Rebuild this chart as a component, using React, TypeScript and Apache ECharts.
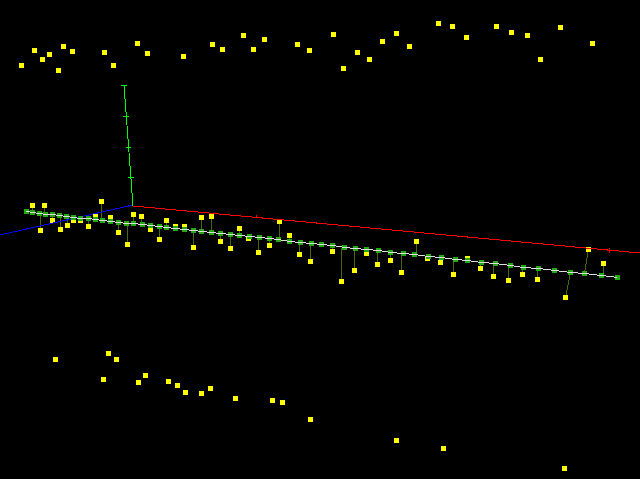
import React, { useEffect, useRef } from "react";
import * as echarts from "echarts";

const topX = [21,34,42,49,63,72,58,104,113,137,147,183,212,222,243,253,264,297,309,333,343,357,369,382,396,409,438,452,466,496,511,527,540,560,592];
const topY = [65,50,59,54,46,51,70,52,65,43,53,56,44,49,35,49,39,44,50,34,68,52,59,41,33,46,23,26,37,26,32,35,59,27,43];
const bottomX = [55,108,116,103,138,145,168,177,185,201,210,235,272,282,310,396,443,564];
const bottomY = [359,353,359,379,382,375,381,385,392,393,388,398,400,402,419,440,448,468];
const baseX = [26,32,39,45,52,59,66,73,80,88,95,102,110,118,126,133,142,150,159,166,175,184,193,201,211,220,230,239,249,259,269,278,289,300,311,321,332,344,355,366,378,390,403,414,428,441,455,467,481,495,510,523,538,554,570,584,601,617];
const baseY = [211,212,213,214,214,215,216,217,218,218,219,220,221,222,223,223,224,225,226,227,228,229,230,231,232,233,234,235,236,237,238,239,241,242,243,244,245,247,248,249,250,252,253,254,256,257,259,260,262,263,265,267,268,270,272,273,275,277];
const pointX = [null,32,40,44,52,60,67,73,80,88,95,101,110,118,127,133,141,150,159,166,175,184,193,201,211,220,230,239,248,258,269,279,289,299,310,null,332,341,354,366,377,390,401,416,427,440,453,467,480,493,508,522,537,null,565,588,603,null];
const pointY = [null,205,230,205,220,229,225,220,220,226,215,201,217,232,244,214,216,229,239,220,226,226,247,217,216,241,248,228,238,252,245,221,235,254,261,null,251,281,270,253,264,260,272,241,258,262,274,258,268,276,280,274,279,null,297,249,263,null];
const redAxis = [[133,206],[640,253]];
const blueAxis = [[0,235],[133,205]];
const greenAxis = [[124,85],[133,206]];
const greenTicks = [[[121,85],[127,85]],[[123,116],[129,116]],[[126,147],[131,147]],[[128,177],[134,177]]];
const redTicks = [[[256,215],[256,218]],[[609,248],[609,253]],[[607,250],[612,250]]];

const px = (v: number) => v + 0.5;
const zip = (xs: (number | null)[], ys: (number | null)[]) =>
  xs.flatMap((x, i) => (x === null || ys[i] === null ? [] : [[px(x), px(ys[i] as number)]]));
const segs = (list: number[][][]) =>
  list.flatMap((s) => [s[0], s[1], ["-", "-"]]);

const stems = baseX.flatMap((x, i) => {
  const p = pointX[i];
  if (p === null) return [];
  const top = Math.abs(x - p) <= 3 ? p : x;
  return [[px(top), px(baseY[i])], [px(p), px(pointY[i] as number)], ["-", "-"]];
});

const lineSeries = (data: any[], color: string, width: number, z: number) => ({
  type: "line",
  data,
  symbol: "none",
  silent: true,
  z,
  lineStyle: { color, width },
});
const squares = (data: any[], color: string, z: number) => ({
  type: "scatter",
  data,
  symbol: "rect",
  symbolSize: 5,
  silent: true,
  z,
  itemStyle: { color, opacity: 1 },
});

export default function App() {
  const ref = useRef<HTMLDivElement>(null);
  useEffect(() => {
    const chart = echarts.init(ref.current!, null, { renderer: "svg" });
    chart.setOption({
      animation: false,
      backgroundColor: "#000000",
      grid: { left: 0, right: 0, top: 0, bottom: 0 },
      xAxis: { type: "value", min: 0, max: 640, show: false },
      yAxis: { type: "value", min: 0, max: 479, inverse: true, show: false },
      series: [
        squares(zip(topX, topY), "#ffff00", 2),
        squares(zip(bottomX, bottomY), "#ffff00", 2),
        lineSeries(stems, "#47660f", 1, 2),
        squares(zip(pointX, pointY), "#ffff00", 3),
        lineSeries(redAxis, "#ff0000", 1, 4),
        lineSeries(segs(redTicks), "#ff0000", 1, 4),
        lineSeries(blueAxis, "#0000ff", 1, 4),
        lineSeries(greenAxis, "#00ff00", 1, 4),
        lineSeries(segs(greenTicks), "#00ff00", 1, 4),
        squares(zip(baseX, baseY), "#22aa11", 5),
        lineSeries(zip(baseX, baseY), "#dddddd", 1, 6),
      ],
    });
    return () => chart.dispose();
  }, []);
  return (
    <>
      <style>{"svg path { shape-rendering: crispEdges; }"}</style>
      <div
        ref={ref}
        style={{ position: "absolute", left: 0, top: 0, width: 640, height: 479 }}
      />
    </>
  );
}
